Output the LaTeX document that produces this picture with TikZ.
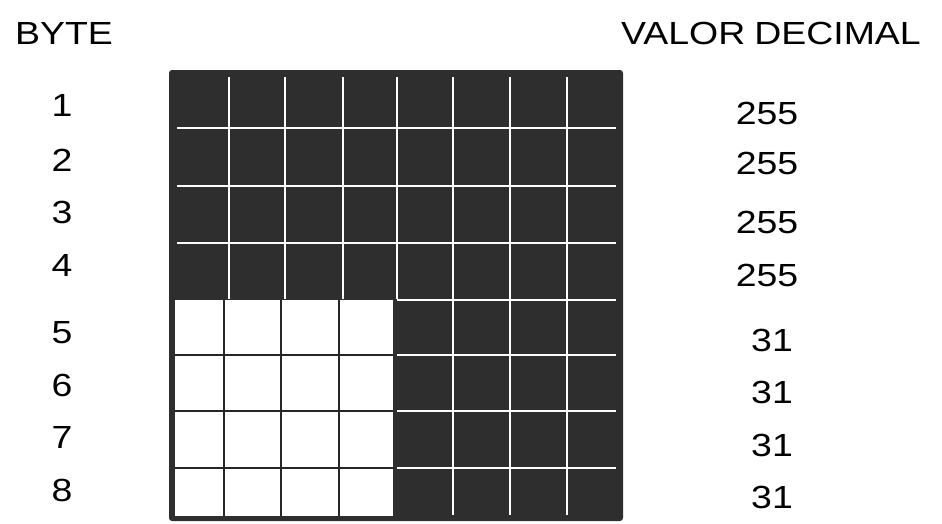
\documentclass[tikz,border=0pt]{standalone}
\usepackage{fontspec}
\setmainfont{Liberation Sans}
\tikzset{
  lbl/.style={anchor=base, inner sep=0pt, font=\fontsize{32}{36}\selectfont},
  darkfill/.style={fill=black!82},
  wline/.style={draw=white, line width=2.4pt},
  bline/.style={draw=black!85, line width=2.2pt},
}
\newcommand{\wtxt}[1]{\scalebox{1.17}[1]{#1}}
\begin{document}
\begin{tikzpicture}[x=1pt, y=-1pt]
\useasboundingbox (0,0) rectangle (942,523);
% headers
\node[lbl] (hbyte) at (64,44) {\wtxt{BYTE}};
\node[lbl] (hval) at (771,44) {\wtxt{VALOR}\hspace{9pt}\wtxt{DECIMAL}};
% grid background
\fill[darkfill, rounded corners=3pt] (169,70) rectangle (623,521);
% white block (rows 5-8, cols 1-4)
\fill[white] (175,300) rectangle (393,516);
\foreach \x in {224,281,339} \draw[bline] (\x,300) -- (\x,516);
\foreach \y in {355,411,468} \draw[bline] (175,\y) -- (393,\y);
% white lines in dark area
\foreach \x in {229,285,343,397} \draw[wline] (\x,77) -- (\x,299);
\foreach \x in {453,510,567} \draw[wline] (\x,77) -- (\x,515);
\foreach \y in {128,186,243} \draw[wline] (177,\y) -- (616,\y);
\foreach \y in {300,355,411,468} \draw[wline] (397,\y) -- (616,\y);
% byte numbers
\foreach \n/\y in {1/116.5,2/171.5,3/223.5,4/276.5,5/343.5,6/396.5,7/448.5,8/501.5}
  \node[lbl] (b\n) at (62,\y) {\wtxt{\n}};
% decimal values
\foreach \n/\y in {1/124.5,2/174.5,3/233.5,4/286.5}
  \node[lbl] (v\n) at (767,\y) {\wtxt{255}};
\foreach \n/\y in {5/351.5,6/403.5,7/456.5,8/508.5}
  \node[lbl] (v\n) at (772,\y) {\wtxt{31}};
\end{tikzpicture}
\end{document}
